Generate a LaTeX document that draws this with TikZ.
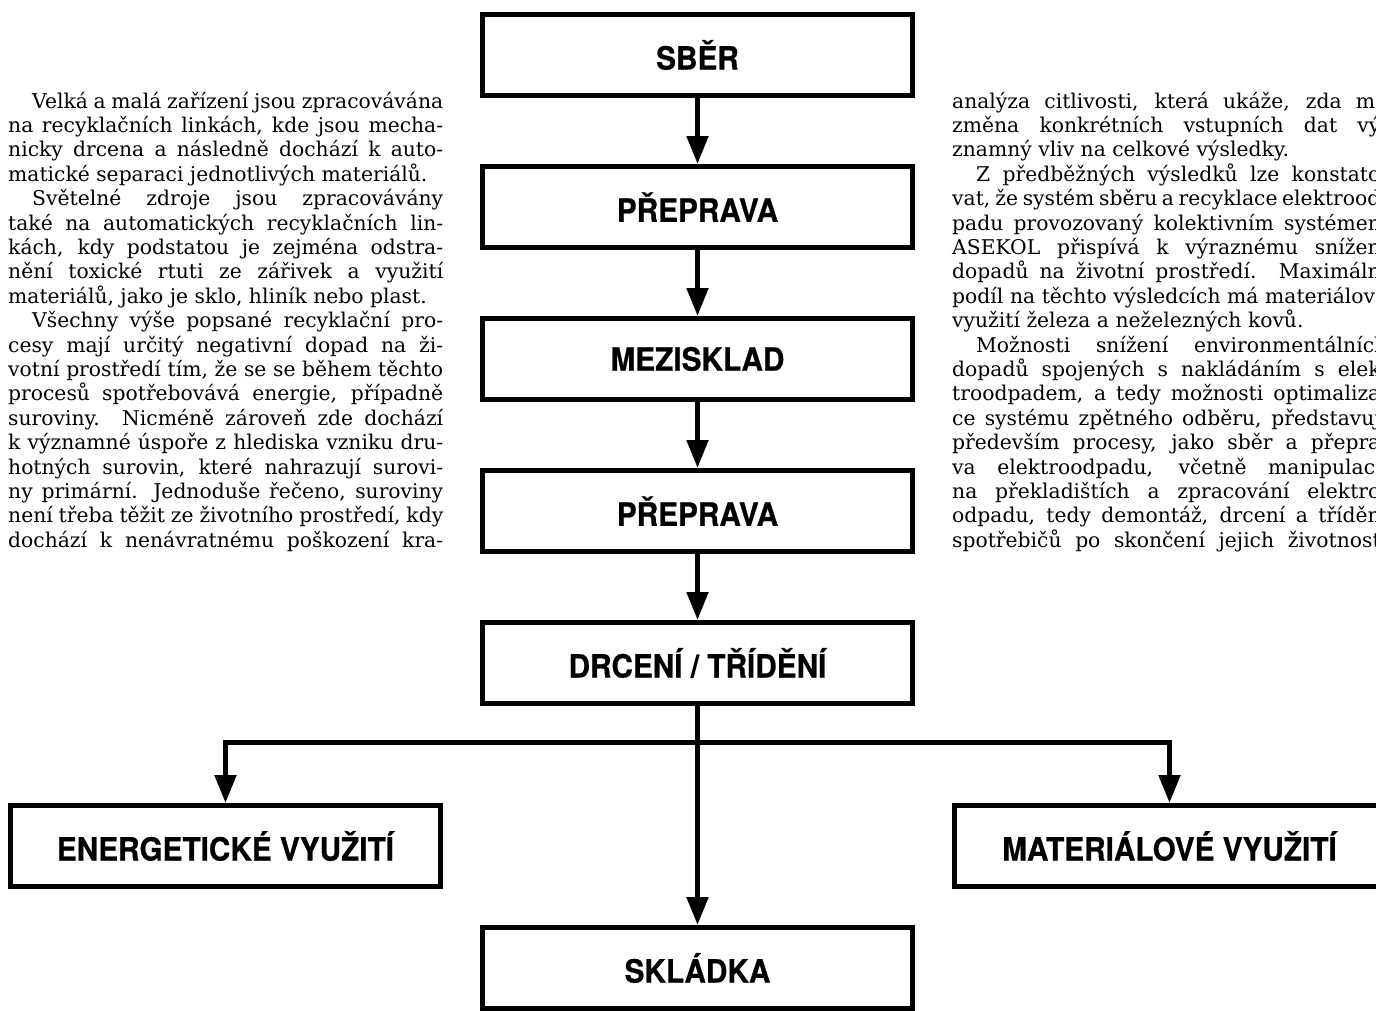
\documentclass[tikz,border=0pt]{standalone}
\usepackage{fontspec}
\setmainfont{DejaVu Serif}
\newfontfamily\boxfont{TeX Gyre Heros}[FakeStretch=0.93, BoldFeatures={FakeBold=0.6}]
\usetikzlibrary{arrows.meta}
\newcommand\bodyfont{\fontsize{20.3}{24.4}\selectfont}
\newcommand\jl[1]{\makebox[435pt][s]{#1}}
\newcommand\il[1]{\makebox[435pt][s]{\hspace*{24pt}#1}}
\tikzset{
  box/.style={draw, line width=5pt, minimum width=430pt, minimum height=81pt, inner sep=0pt,
    font=\boxfont\bfseries\fontsize{32}{36}\selectfont, fill=white},
  conn/.style={line width=5pt, line join=miter},
  tip/.style={-{Triangle[width=21pt,length=28pt]}},
  txt/.style={anchor=base west, inner sep=0pt, font=\bodyfont}
}
\begin{document}
\begin{tikzpicture}[x=1pt,y=-1pt]
\useasboundingbox (0,0) rectangle (1376,1010);
\clip (0,0) rectangle (1376,1010);
\fill[white] (0,0) rectangle (1376,1010);
% left column
\node[txt] (l1) at (8,108.0) {\il{Velká a malá zařízení jsou zpracovávána}};
\node[txt] (l2) at (8,132.4) {\jl{na recyklačních linkách, kde jsou mecha-}};
\node[txt] (l3) at (8,156.8) {\jl{nicky drcena a následně dochází k auto-}};
\node[txt] (l4) at (8,181.2) {matické separaci jednotlivých materiálů.};
\node[txt] (l5) at (8,205.6) {\il{Světelné zdroje jsou zpracovávány}};
\node[txt] (l6) at (8,230.0) {\jl{také na automatických recyklačních lin-}};
\node[txt] (l7) at (8,254.4) {\jl{kách, kdy podstatou je zejména odstra-}};
\node[txt] (l8) at (8,278.8) {\jl{nění toxické rtuti ze zářivek a využití}};
\node[txt] (l9) at (8,303.2) {materiálů, jako je sklo, hliník nebo plast.};
\node[txt] (l10) at (8,327.6) {\il{Všechny výše popsané recyklační pro-}};
\node[txt] (l11) at (8,352.0) {\jl{cesy mají určitý negativní dopad na ži-}};
\node[txt] (l12) at (8,376.4) {\jl{votní prostředí tím, že se se během těchto}};
\node[txt] (l13) at (8,400.8) {\jl{procesů spotřebovává energie, případně}};
\node[txt] (l14) at (8,425.2) {\jl{suroviny. Nicméně zároveň zde dochází}};
\node[txt] (l15) at (8,449.6) {\jl{k významné úspoře z hlediska vzniku dru-}};
\node[txt] (l16) at (8,474.0) {\jl{hotných surovin, které nahrazují surovi-}};
\node[txt] (l17) at (8,498.4) {\jl{ny primární. Jednoduše řečeno, suroviny}};
\node[txt] (l18) at (8,522.8) {\jl{není třeba těžit ze životního prostředí, kdy}};
\node[txt] (l19) at (8,547.2) {\jl{dochází k nenávratnému poškození kra-}};
% right column
\node[txt] (r1) at (952,108.0) {\jl{analýza citlivosti, která ukáže, zda má}};
\node[txt] (r2) at (952,132.4) {\jl{změna konkrétních vstupních dat vý-}};
\node[txt] (r3) at (952,156.8) {znamný vliv na celkové výsledky.};
\node[txt] (r4) at (952,181.2) {\il{Z předběžných výsledků lze konstato-}};
\node[txt] (r5) at (952,205.6) {\jl{vat, že systém sběru a recyklace elektrood-}};
\node[txt] (r6) at (952,230.0) {\jl{padu provozovaný kolektivním systémem}};
\node[txt] (r7) at (952,254.4) {\jl{ASEKOL přispívá k výraznému snížení}};
\node[txt] (r8) at (952,278.8) {\jl{dopadů na životní prostředí. Maximální}};
\node[txt] (r9) at (952,303.2) {\jl{podíl na těchto výsledcích má materiálové}};
\node[txt] (r10) at (952,327.6) {využití železa a neželezných kovů.};
\node[txt] (r11) at (952,352.0) {\il{Možnosti snížení environmentálních}};
\node[txt] (r12) at (952,376.4) {\jl{dopadů spojených s nakládáním s elek-}};
\node[txt] (r13) at (952,400.8) {\jl{troodpadem, a tedy možnosti optimaliza-}};
\node[txt] (r14) at (952,425.2) {\jl{ce systému zpětného odběru, představují}};
\node[txt] (r15) at (952,449.6) {\jl{především procesy, jako sběr a přepra-}};
\node[txt] (r16) at (952,474.0) {\jl{va elektroodpadu, včetně manipulace}};
\node[txt] (r17) at (952,498.4) {\jl{na překladištích a zpracování elektro-}};
\node[txt] (r18) at (952,522.8) {\jl{odpadu, tedy demontáž, drcení a třídění}};
\node[txt] (r19) at (952,547.2) {\jl{spotřebičů po skončení jejich životnosti}};
% boxes
\node[box] (sber) at (697.5,55) {SBĚR};
\node[box] (prep1) at (697.5,207) {PŘEPRAVA};
\node[box] (mezi) at (697.5,359) {MEZISKLAD};
\node[box] (prep2) at (697.5,511) {PŘEPRAVA};
\node[box] (drc) at (697.5,663) {DRCENÍ / TŘÍDĚNÍ};
\node[box] (ener) at (225.5,846) {ENERGETICKÉ VYUŽITÍ};
\node[box] (mat) at (1169.5,846) {MATERIÁLOVÉ VYUŽITÍ};
\node[box] (skl) at (697.5,968) {SKLÁDKA};
\coordinate (br) at (697.5,742);
% connectors
\draw[conn,tip] (sber) -- (prep1);
\draw[conn,tip] (prep1) -- (mezi);
\draw[conn,tip] (mezi) -- (prep2);
\draw[conn,tip] (prep2) -- (drc);
\draw[conn,tip] (drc) -- (skl);
\draw[conn,{Triangle[width=21pt,length=28pt]}-{Triangle[width=21pt,length=28pt]}] (ener.north) |- (br) -| (mat.north);
\end{tikzpicture}
\end{document}
